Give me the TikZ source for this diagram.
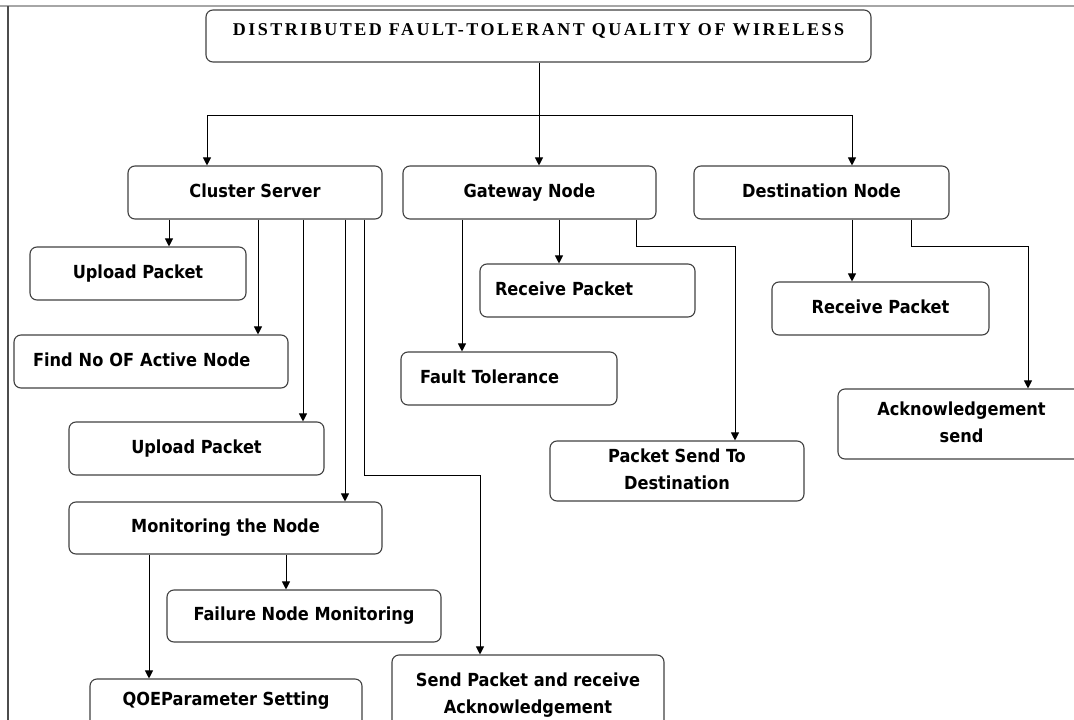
\documentclass[tikz,border=0pt]{standalone}
\usepackage{fontspec}
\setmainfont{DejaVu Sans Condensed}
\newfontfamily\titlefont{Liberation Serif}[LetterSpace=14]
\usetikzlibrary{arrows.meta}
\begin{document}
\begin{tikzpicture}[x=1pt,y=-1pt,>={Triangle[length=8pt,width=8pt]},
    box/.style={draw=black!75,line width=1.1pt,rounded corners=7pt,align=center,
        inner sep=2pt,text height=13pt,text depth=4pt,
        font=\bfseries\fontsize{18}{27}\selectfont},
    two/.style={text height=40pt},
    link/.style={line width=1pt}]
\useasboundingbox (0,0) rectangle (1074,720);
\clip (0,0) rectangle (1074,720);
\draw[gray!70,line width=1.5pt](0,6)--(1074,6);
\draw[black!70,line width=1.2pt](8,6)--(8,720);
% top row
\node[box,minimum width=665pt,minimum height=52pt](title) at (538.5,36)
    {\raisebox{5pt}{\titlefont\bfseries\fontsize{18}{20}\selectfont DISTRIBUTED FAULT-TOLERANT QUALITY OF WIRELESS}};
\node[box,minimum width=254pt,minimum height=53pt](cs) at (255,192.5){Cluster Server};
\node[box,minimum width=253pt,minimum height=53pt](gw) at (529.5,192.5){Gateway Node};
\node[box,minimum width=255pt,minimum height=53pt](dn) at (821.5,192.5){Destination Node};
% cluster server
\node[box,minimum width=216pt,minimum height=53pt](up1) at (138,273.5){Upload Packet};
\node[box,minimum height=53pt,text width=236pt,inner xsep=19pt,align=left](find) at (151,361.5){Find No OF Active Node};
\node[box,minimum width=255pt,minimum height=53pt](up2) at (196.5,448.5){Upload Packet};
\node[box,minimum width=313pt,minimum height=52pt](mon) at (225.5,528){Monitoring the Node};
\node[box,minimum width=274pt,minimum height=52pt](fail) at (304,616){Failure Node Monitoring};
\node[box,minimum width=272pt,minimum height=56pt](qoe) at (226,707){\raisebox{6pt}{QOEParameter Setting}};
\node[box,two,minimum width=272pt,minimum height=80pt](sp) at (528,695){Send Packet and receive\\Acknowledgement};
% gateway
\node[box,minimum height=53pt,text width=185pt,inner xsep=15pt,align=left](grp) at (587.5,290.5){Receive Packet};
\node[box,minimum height=53pt,text width=178pt,inner xsep=19pt,align=left](ft) at (509,378.5){Fault Tolerance};
\node[box,two,minimum width=254pt,minimum height=60pt](psd) at (677,471){Packet Send To\\Destination};
% destination
\node[box,minimum width=217pt,minimum height=53pt](drp) at (880.5,308.5){Receive Packet};
\node[box,two,minimum width=247pt,minimum height=70pt](ack) at (961.5,424){Acknowledgement\\send};

\draw[link,->](539,0 |- title.south)--(539,0 |- gw.north);
\draw[link,<->](207,0 |- cs.north)--(207,115)--(852,115)--(852,0 |- dn.north);
\foreach \x/\t in {169/up1,258/find,303/up2,345/mon}
{
    \draw[link,->](\x,0 |- cs.south)--(\x,0 |- \t.north);
}
\draw[link,->](364,0 |- cs.south)--(364,0 |- up2.south)--(480,0 |- up2.south)--(480,0 |- sp.north);
\foreach \x/\t in {286/fail,149/qoe}
{
    \draw[link,->](\x,0 |- mon.south)--(\x,0 |- \t.north);
}
\foreach \x/\t in {462/ft,559/grp}
{
    \draw[link,->](\x,0 |- gw.south)--(\x,0 |- \t.north);
}
\draw[link,->](636,0 |- gw.south)--(636,246)-|(735,0 |- psd.north);
\draw[link,->](852,0 |- dn.south)--(852,0 |- drp.north);
\draw[link,->](911,0 |- dn.south)--(911,246)-|(1028,0 |- ack.north);

\end{tikzpicture}
\end{document}
